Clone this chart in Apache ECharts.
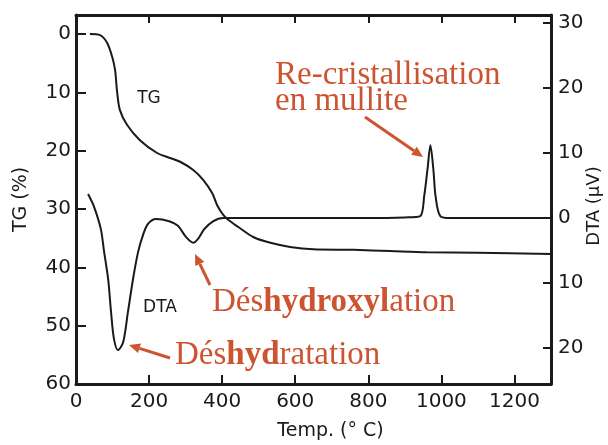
<!DOCTYPE html>
<html>
<head>
<meta charset="utf-8">
<script src="https://cdn.jsdelivr.net/npm/echarts@6/dist/echarts.min.js"></script>
<style>
  html, body { margin: 0; padding: 0; background: #fff; }
</style>
</head>
<body>
<div id="main" style="width:608px;height:445px;"></div>
<script>
// TG curve (left axis, %)
var tgTemp = [38, 66, 85, 99, 107, 112, 120, 140, 175, 222, 260, 285, 321, 348, 373, 386, 403, 422, 449, 485, 532, 586, 649, 760, 860, 960, 1100, 1300];
var tgValue = [0, 0.2, 1.5, 3.9, 6.2, 9.6, 13.0, 15.6, 18.2, 20.4, 21.3, 21.9, 23.3, 25.0, 27.3, 29.3, 31.0, 32.1, 33.3, 34.8, 35.8, 36.5, 36.9, 37.0, 37.2, 37.4, 37.5, 37.7];

// DTA curve (right axis, µV)
var dtaTemp = [33, 49, 68, 77, 88, 96, 104, 115, 129, 142, 156, 170, 184, 197, 219, 255, 279, 301, 321, 334, 351, 375, 403, 600, 800, 900, 942, 953, 962, 970, 978, 984, 997, 1025, 1300];
var dtaValue = [3.7, 1.8, -1.7, -5.2, -9.4, -14.5, -18.6, -20.3, -19.1, -14.5, -9.4, -5.2, -2.5, -0.9, -0.15, -0.5, -1.2, -2.9, -3.8, -3.2, -1.7, -0.5, 0, 0, 0, 0.1, 0.3, 3.4, 7.5, 11.2, 7.5, 3.4, 0.3, 0, 0];

var tgTicks = [0, 10, 20, 30, 40, 50, 60];
var dtaTicks = [-20, -10, 0, 10, 20, 30];

var ink = "#1a1a1a";
var red = "#cd5430";
var axisFont = "DejaVu Sans";
var serif = "Liberation Serif";

function pairs(xs, ys) {
  return xs.map(function (x, i) { return [x, ys[i]]; });
}

// arrow: line from tail to tip plus a filled head
function arrow(x1, y1, x2, y2) {
  var dx = x2 - x1, dy = y2 - y1;
  var len = Math.sqrt(dx * dx + dy * dy);
  var ux = dx / len, uy = dy / len;
  var hl = 11, hw = 5;
  var bx = x2 - ux * hl, by = y2 - uy * hl;
  return [
    { type: "line", shape: { x1: x1, y1: y1, x2: bx, y2: by }, style: { stroke: red, lineWidth: 3 } },
    { type: "polygon", shape: { points: [[x2, y2], [bx - uy * hw, by + ux * hw], [bx + uy * hw, by - ux * hw]] }, style: { fill: red } }
  ];
}

var myChart = echarts.init(document.getElementById("main"));

var graphics = [
  { type: "text", x: 149, y: 99, style: { text: "TG", font: "17px " + axisFont, fill: ink, align: "center", verticalAlign: "middle" } },
  { type: "text", x: 160, y: 308, style: { text: "DTA", font: "17px " + axisFont, fill: ink, align: "center", verticalAlign: "middle" } },
  // right axis title
  { type: "text", x: 594, y: 206, rotation: Math.PI / 2, style: { text: "DTA (µV)", font: "18px " + axisFont, fill: ink, align: "center", verticalAlign: "middle" } },
  { type: "text", x: 275, y: 75, style: { text: "Re-cristallisation", font: "33px " + serif, fill: red, verticalAlign: "middle" } },
  { type: "text", x: 275, y: 101, style: { text: "en mullite", font: "33px " + serif, fill: red, verticalAlign: "middle" } },
  { type: "text", x: 212, y: 302, style: {
      text: "{n|Dés}{b|hydroxyl}{n|ation}", verticalAlign: "middle",
      rich: { n: { font: "33px " + serif, fill: red }, b: { font: "bold 33px " + serif, fill: red } } } },
  { type: "text", x: 175, y: 355, style: {
      text: "{n|Dés}{b|hyd}{n|ratation}", verticalAlign: "middle",
      rich: { n: { font: "33px " + serif, fill: red }, b: { font: "bold 33px " + serif, fill: red } } } }
].concat(arrow(365, 117, 423, 157))
 .concat(arrow(210, 285, 195, 254))
 .concat(arrow(170, 358, 129, 345));

var labelStyle = { fontFamily: axisFont, fontSize: 20, color: ink };
var lineStyleAxis = { color: ink, width: 3 };

var option = {
  animation: false,
  grid: { left: 76, right: 57, top: 15, bottom: 61, outerBoundsMode: "none", containLabel: false },
  xAxis: [
    {
      type: "value", position: "bottom", min: 0, max: 1300, interval: 200,
      name: "Temp. (° C)", nameLocation: "middle", nameGap: 38,
      nameTextStyle: { fontFamily: axisFont, fontSize: 19, color: ink, padding: [0, 0, 0, 34] },
      axisLine: { onZero: false, lineStyle: lineStyleAxis },
      axisTick: { inside: true, length: 9, lineStyle: { color: ink, width: 2 } },
      axisLabel: Object.assign({ margin: 8, formatter: function (v) { return String(v); } }, labelStyle),
      splitLine: { show: false }
    },
    {
      type: "value", position: "top", min: 0, max: 1300, interval: 200,
      axisLine: { onZero: false, lineStyle: lineStyleAxis },
      axisTick: { inside: true, length: 8, lineStyle: { color: ink, width: 2 } },
      axisLabel: { show: false },
      splitLine: { show: false }
    }
  ],
  yAxis: [
    {
      type: "value", position: "left", inverse: true, min: -3.26, max: 60,
      name: "TG (%)", nameLocation: "middle", nameGap: 45, nameRotate: 90,
      nameTextStyle: { fontFamily: axisFont, fontSize: 19, color: ink, padding: [0, 0, 0, 0] },
      axisLine: { onZero: false, lineStyle: lineStyleAxis },
      axisTick: { inside: true, length: 10, customValues: tgTicks, lineStyle: { color: ink, width: 2 } },
      axisLabel: Object.assign({ margin: 5, customValues: tgTicks }, labelStyle),
      splitLine: { show: false }
    },
    {
      type: "value", position: "right", min: -25.5, max: 31.2,
      axisLine: { onZero: false, lineStyle: lineStyleAxis },
      axisTick: { inside: true, length: 8, customValues: dtaTicks, lineStyle: { color: ink, width: 2 } },
      axisLabel: Object.assign({
        margin: 7, customValues: dtaTicks,
        formatter: function (v) { return String(Math.abs(v)); }
      }, labelStyle),
      splitLine: { show: false }
    }
  ],
  series: [
    {
      name: "TG", type: "line", xAxisIndex: 0, yAxisIndex: 0,
      data: pairs(tgTemp, tgValue), showSymbol: false, smooth: 0.3,
      lineStyle: { color: ink, width: 2 }
    },
    {
      name: "DTA", type: "line", xAxisIndex: 0, yAxisIndex: 1,
      data: pairs(dtaTemp, dtaValue), showSymbol: false, smooth: 0.3,
      lineStyle: { color: ink, width: 2 }
    }
  ],
  graphic: graphics
};

myChart.setOption(option);
</script>
</body>
</html>
